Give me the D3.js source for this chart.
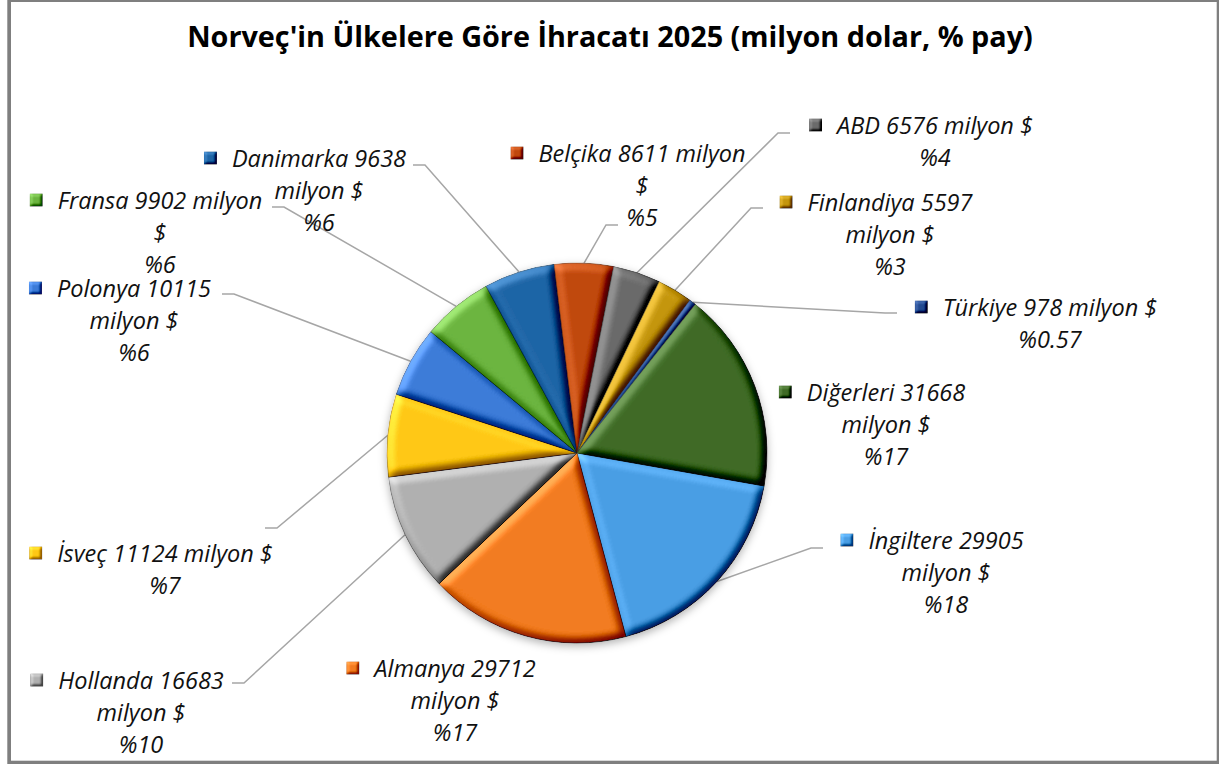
<!DOCTYPE html>
<html lang="tr">
<head>
    <meta charset="UTF-8">
    <title>Norveç ihracat 2025</title>
    <style>
        body { margin: 0; background: #fff; }
        #chart { width: 1219px; height: 764px; }
        text { font-family: "Open Sans", "Noto Sans", sans-serif; }
    </style>
</head>
<body>
    <div id="chart"></div>

    <script src="https://d3js.org/d3.v7.min.js"></script>
    <script>
        // data, in the order the slices are drawn (clockwise from ~100deg)
        const countries = ['İngiltere', 'Almanya', 'Hollanda', 'İsveç', 'Polonya', 'Fransa',
            'Danimarka', 'Belçika', 'ABD', 'Finlandiya', 'Türkiye', 'Diğerleri']
        const exportValues = [29905, 29712, 16683, 11124, 10115, 9902, 9638, 8611, 6576, 5597, 978, 31668]
        const sharePct = [18, 17, 10, 7, 6, 6, 6, 5, 4, 3, 0.57, 17]
        const sliceColors = ['#4a9ee4', '#f27b20', '#b0b0b0', '#ffc816', '#3c7bd8', '#6cb540',
            '#1f65a6', '#c0480c', '#6b6b6b', '#c4960e', '#234a90', '#3f6b26']

        // label layout (centre of text block, first line) and where the leader line ends
        const labelPos = [[946, 540], [455, 668], [141, 680], [165, 553], [134, 288], [160, 200],
            [319, 158], [642, 153], [935, 125], [890, 202], [1050, 307], [886, 392]]
        const lineWords = [[2, 2], [2, 2], [2, 2], [4], [2, 2], [3, 1], [2, 2], [3, 1], [4], [2, 2], [4], [2, 2]]
        const leaderEnd = [[823, 548], null, [232, 683], [265, 528], [222, 294], [272, 207],
            [413, 165], [618, 225], [790, 133], [763, 208], [897, 313], null]

        const width = 1219
        const height = 764
        const cx = 577
        const cy = 453
        const radius = 190
        const firstAngle = 100 * Math.PI / 180
        const lineGap = 32.4

        const data = countries.map((c, i) => ({
            name: c,
            value: exportValues[i],
            share: sharePct[i],
            color: sliceColors[i]
        }))

        const svg = d3.select('#chart').append('svg')
            .attr('width', width)
            .attr('height', height)

        const defs = svg.append('defs')
        function bevel(id, blur, scale, k3) {
            const f = defs.append('filter').attr('id', id)
                .attr('x', '-10%').attr('y', '-10%').attr('width', '120%').attr('height', '120%')
                .attr('color-interpolation-filters', 'sRGB')
            f.append('feGaussianBlur').attr('in', 'SourceAlpha').attr('stdDeviation', blur).attr('result', 'blur')
            f.append('feDiffuseLighting').attr('in', 'blur').attr('surfaceScale', scale)
                .attr('diffuseConstant', 1).attr('lighting-color', '#fff').attr('result', 'light')
                .append('feDistantLight').attr('azimuth', 225).attr('elevation', 45)
            f.append('feComposite').attr('in', 'SourceGraphic').attr('in2', 'light')
                .attr('operator', 'arithmetic')
                .attr('k1', 0).attr('k2', 1).attr('k3', k3).attr('k4', -k3 * Math.SQRT1_2).attr('result', 'lit')
            f.append('feComposite').attr('in', 'lit').attr('in2', 'SourceAlpha').attr('operator', 'in')
        }
        bevel('bevel', 4.5, 6, 0.7)
        bevel('bevelKey', 1.6, 3, 0.6)

        const shadow = defs.append('filter').attr('id', 'shadow')
            .attr('x', '-20%').attr('y', '-20%').attr('width', '140%').attr('height', '140%')
        shadow.append('feDropShadow').attr('dx', 0).attr('dy', 3).attr('stdDeviation', 4)
            .attr('flood-color', '#000').attr('flood-opacity', 0.3)

        // frame
        svg.append('rect')
            .attr('x', 9.15).attr('y', 0.15)
            .attr('width', 1209.4).attr('height', 762.4)
            .attr('fill', '#fff')
            .attr('stroke', '#7f7f7f')
            .attr('stroke-width', 3.7)

        // title, fitted to the width of the original
        const title = svg.append('text')
            .attr('x', 610).attr('y', 47)
            .attr('text-anchor', 'middle')
            .attr('font-weight', 700)
            .attr('fill', '#000')
            .style('font-size', '26px')
            .text("Norveç'in Ülkelere Göre İhracatı 2025 (milyon dolar, % pay)")
        const tw = title.node().getComputedTextLength()
        title.style('font-size', (26 * 846 / tw) + 'px')

        const pie = d3.pie()
            .sort(null)
            .value(d => d.share)
            .startAngle(firstAngle)
            .endAngle(firstAngle + 2 * Math.PI)
        const pieData = pie(data)

        const arc = d3.arc().innerRadius(0).outerRadius(radius)
        const edgeArc = d3.arc().innerRadius(radius).outerRadius(radius)

        // leader lines
        const leaders = svg.append('g')
            .attr('fill', 'none')
            .attr('stroke', '#a6a6a6')
            .attr('stroke-width', 1.5)
        pieData.forEach((d, i) => {
            const end = leaderEnd[i]
            if (!end) return
            const p = edgeArc.centroid(d)
            const start = [cx + p[0], cy + p[1]]
            const elbow = [end[0] + (end[0] < cx ? 12 : -12), end[1]]
            leaders.append('path')
                .attr('d', d3.line()([start, elbow, end]))
        })

        const pieG = svg.append('g')
            .attr('transform', `translate(${cx}, ${cy})`)
            .attr('filter', 'url(#shadow)')

        pieG.selectAll('path')
            .data(pieData)
            .enter()
            .append('path')
            .attr('d', arc)
            .attr('fill', d => d.data.color)
            .attr('stroke', d => d3.color(d.data.color).darker(1.2))
            .attr('stroke-width', 0.8)
            .attr('filter', 'url(#bevel)')

        // data labels
        const labels = svg.append('g')
            .attr('fill', '#111')
            .style('font-size', '23.5px')
            .style('font-style', 'italic')

        pieData.forEach((d, i) => {
            const words = `${d.data.name} ${d.data.value} milyon $`.split(' ')
            const lines = []
            let k = 0
            lineWords[i].forEach(n => {
                lines.push(words.slice(k, k + n).join(' '))
                k += n
            })
            lines.push('%' + d.data.share)

            const [lx, ly] = labelPos[i]
            let first
            lines.forEach((line, j) => {
                const t = labels.append('text')
                    .attr('x', lx)
                    .attr('y', ly + j * lineGap + 8.5)
                    .attr('text-anchor', 'middle')
                    .text(line)
                if (j == 0) first = t
            })
            const w = first.node().getComputedTextLength()
            labels.append('rect')
                .attr('x', lx - w / 2 - 28)
                .attr('y', ly - 6.5)
                .attr('width', 13)
                .attr('height', 13)
                .attr('fill', d.data.color)
                .attr('filter', 'url(#bevelKey)')
        })
    </script>
</body>
</html>
